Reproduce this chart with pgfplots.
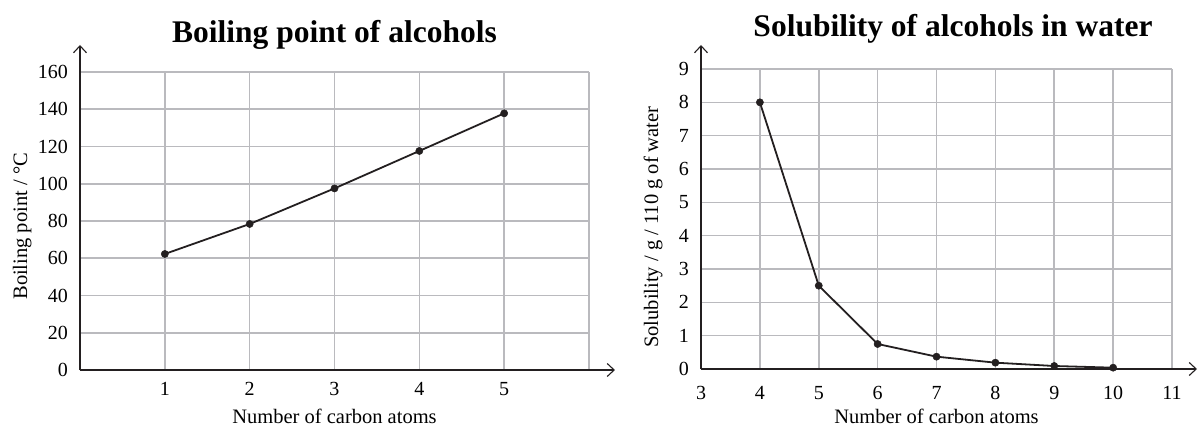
\documentclass[border=0pt]{standalone}
\usepackage{fontspec}
\setmainfont{Liberation Serif}
\usepackage{pgfplots}
\pgfplotsset{compat=1.18}
\usetikzlibrary{arrows.meta}
\definecolor{gridgray}{RGB}{186,186,190}
\definecolor{ink}{RGB}{35,31,32}
\pgfplotsset{
  common/.style={
    scale only axis,
    axis lines=left,
    enlargelimits=false,
    grid=major,
    major grid style={draw=gridgray,line width=1.6bp},
    major tick length=0pt,
    axis line style={draw=ink,line width=1.4bp,-{Straight Barb[length=7bp,width=13bp,line width=1.1bp]}},
    /pgf/number format/assume math mode=true,
    tick label style={font=\fontsize{20bp}{24bp}\selectfont},
    yticklabel style={anchor=east,inner sep=0pt,xshift=-12bp},
    title style={font=\fontsize{31.5bp}{36bp}\selectfont\bfseries},
  },
  dataline/.style={ink,line width=1.8bp,mark=*,mark size=3.6bp,mark options={fill=ink,draw=ink,line width=0.5bp}},
}
\begin{document}
\begin{tikzpicture}
\useasboundingbox (0,0) rectangle (1198bp,427bp);
% Left chart
\begin{axis}[
  common,
  at={(80bp,57bp)}, anchor=south west,
  width=509bp, height=298bp,
  xmin=0, xmax=6, ymin=0, ymax=160,
  xtick={1,2,3,4,5,6}, xticklabels={1,2,3,4,5,{}},
  ytick={0,20,...,160},
  x axis line style={shorten >=-26bp},
  y axis line style={shorten >=-27bp},
  xticklabel style={anchor=base,inner sep=0pt,yshift=-25.5bp},
  title={Boiling point of alcohols},
  title style={at={(0.5,1)},anchor=base,yshift=24bp},
  xlabel={Number of carbon atoms},
  every axis x label/.style={at={(axis description cs:0.5,0)},anchor=base,inner sep=0pt,yshift=-53bp,font=\fontsize{20.5bp}{24bp}\selectfont},
  ylabel={Boiling point / °C},
  every axis y label/.style={at={(axis description cs:-0.1041,0.482)},rotate=90,anchor=base,font=\fontsize{20.5bp}{24bp}\selectfont},
]
\addplot[dataline] coordinates {
  (1,62.3) (2,78.4) (3,97.5) (4,117.6) (5,137.8)
};
\end{axis}
% Right chart
\begin{axis}[
  common,
  at={(701bp,58bp)}, anchor=south west,
  width=471bp, height=300bp,
  xmin=3, xmax=11, ymin=0, ymax=9,
  xtick={3,...,11},
  ytick={0,...,9},
  x axis line style={shorten >=-25bp},
  y axis line style={shorten >=-24bp},
  xticklabel style={anchor=base,inner sep=0pt,yshift=-30bp},
  title={Solubility of alcohols in water},
  title style={at={(0.5,1)},anchor=base,yshift=27bp,xshift=16.5bp},
  xlabel={Number of carbon atoms},
  every axis x label/.style={at={(axis description cs:0.5,0)},anchor=base,inner sep=0pt,yshift=-54bp,font=\fontsize{20.5bp}{24bp}\selectfont},
  ylabel={Solubility / g / 110 g of water},
  every axis y label/.style={at={(axis description cs:-0.0913,0.473)},rotate=90,anchor=base,font=\fontsize{20.5bp}{24bp}\selectfont},
]
\addplot[dataline] coordinates {
  (4,8) (5,2.5) (6,0.75) (7,0.37) (8,0.19) (9,0.09) (10,0.04)
};
\end{axis}
\end{tikzpicture}
\end{document}
